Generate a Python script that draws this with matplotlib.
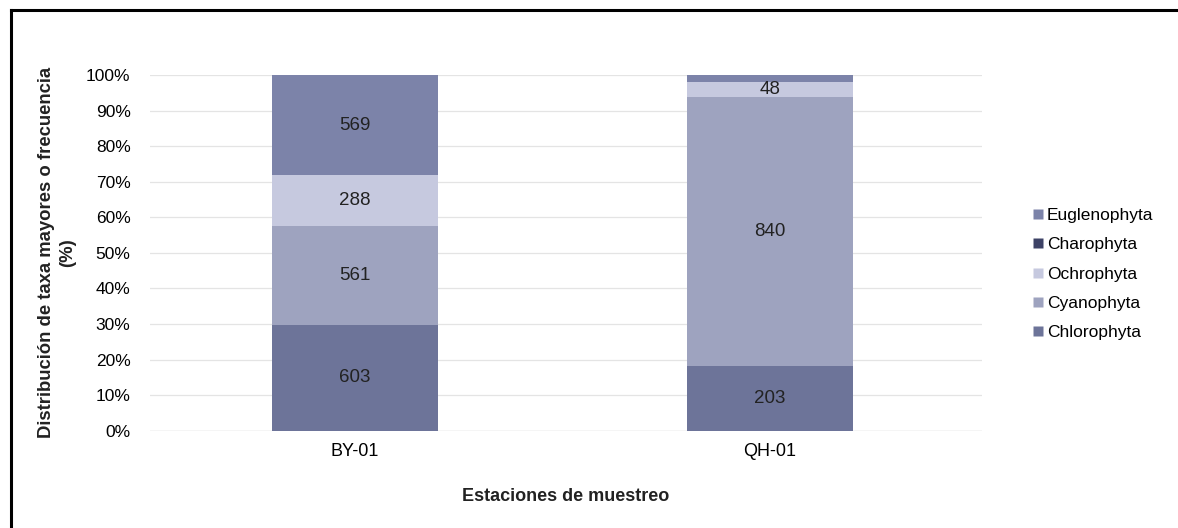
import matplotlib
matplotlib.use("Agg")
import matplotlib.pyplot as plt
from matplotlib.lines import Line2D
import numpy as np

plt.rcParams['font.family'] = ['Liberation Sans', 'DejaVu Sans']

stations = ["BY-01", "QH-01"]
groups = ["Chlorophyta", "Cyanophyta", "Ochrophyta", "Charophyta", "Euglenophyta"]
chlorophyta = [603, 203]
cyanophyta = [561, 840]
ochrophyta = [288, 48]
charophyta = [0, 0]
euglenophyta = [569, 22]
colors = ["#6d7499", "#9ea3bf", "#c6c9df", "#3d4266", "#7c83a9"]

series = [chlorophyta, cyanophyta, ochrophyta, charophyta, euglenophyta]
data = np.array(series, dtype=float)
totals = data.sum(axis=0)
pct = data / totals * 100

fig = plt.figure(figsize=(11.78, 5.28), dpi=100)
ax = fig.add_axes([0.1273, 0.184, 0.706, 0.674])

x = np.arange(len(stations))
bottom = np.zeros(len(stations))
for i, g in enumerate(groups):
    ax.bar(x, pct[i], 0.40, bottom=bottom, color=colors[i], label=g, zorder=3,
           edgecolor="none")
    for j in range(len(stations)):
        if data[i, j] >= 40:
            ax.text(x[j], bottom[j] + pct[i, j] / 2, f"{int(data[i, j])}",
                    ha="center", va="center", fontsize=13.5, color="#222222", zorder=4)
    bottom += pct[i]

ax.set_xlim(-0.493, 1.51)
ax.set_ylim(0, 100)
ax.set_yticks(np.arange(0, 101, 10))
ax.set_yticklabels([f"{v}%" for v in range(0, 101, 10)], fontsize=12.5)
ax.set_xticks(x)
ax.set_xticklabels(stations, fontsize=13)
ax.tick_params(axis="x", length=0, pad=9)
ax.tick_params(axis="y", length=0, pad=14)
ax.yaxis.grid(True, color="#e4e4e4", linewidth=0.9, zorder=0)
for s in ax.spines.values():
    s.set_visible(False)
ax.axhline(0, color="#e0e0e0", linewidth=1, zorder=1)

ax.set_ylabel("Distribución de taxa mayores o frecuencia\n(%)", fontsize=13.3,
              fontweight="bold", color="#222222", labelpad=7, linespacing=1.3)
ax.set_xlabel("Estaciones de muestreo", fontsize=13, fontweight="bold",
              color="#222222", labelpad=20)

handles = [Line2D([0], [0], marker="s", linestyle="none", markersize=6.5,
                  markerfacecolor=colors[i], markeredgecolor="none")
           for i in range(len(groups))][::-1]
fig.legend(handles, groups[::-1], loc="center left", bbox_to_anchor=(0.862, 0.481),
           frameon=False, fontsize=12.5, handletextpad=0.1, labelspacing=0.82,
           handlelength=0.8)

# frame lines (left and top)
fig.add_artist(Line2D([0.0095, 0.0095], [0.0, 0.982], color="black", linewidth=2.2,
                      transform=fig.transFigure))
fig.add_artist(Line2D([0.0095, 1.0], [0.982, 0.982], color="black", linewidth=2.2,
                      transform=fig.transFigure))

fig.savefig("out.png", dpi=100)
